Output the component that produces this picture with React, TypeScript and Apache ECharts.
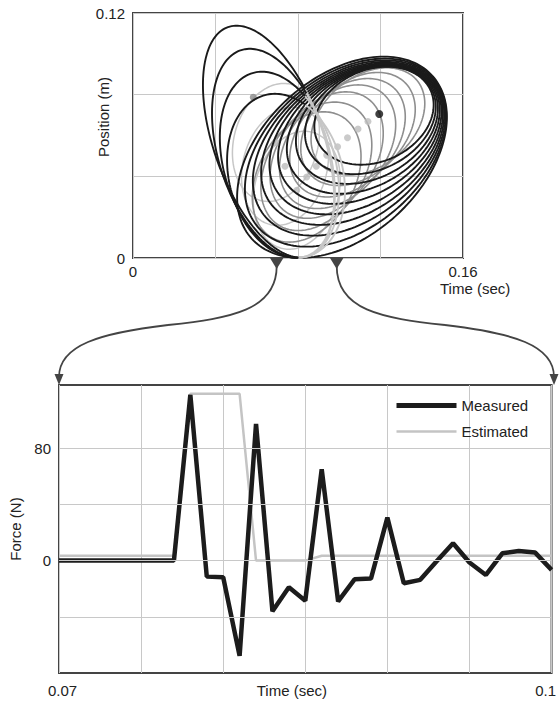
import React, { useEffect, useRef } from "react";
import * as echarts from "echarts";

const FONT = '"Liberation Sans", Arial, Helvetica, sans-serif';

// ---------- Top chart: position vs time ellipses ----------
// ellipse rows: [centerTime, centerPos, semiMajor, semiMinor, angleDeg]
const lobeEllipses = [
  [0.0657, 0.057, 0.0589, 0.0265, -70.5],
  [0.0681, 0.0513, 0.0524, 0.0266, -72.7],
  [0.071, 0.0457, 0.0463, 0.0269, -73.7],
  [0.0742, 0.0403, 0.0404, 0.0276, -75.4],
];
// chord separating the drawn (black) and hidden (grey) halves of the lobes
const lobeApex = [0.0843, 0.0814];
const lobeBase = [0.0794, 0.0];
const rightEllipses = [
  [0.10133, 0.04937, 0.05896, 0.03859, 42],
  [0.10308, 0.05162, 0.05576, 0.0368, 40],
  [0.10478, 0.05388, 0.05256, 0.03496, 38],
  [0.10652, 0.05613, 0.04931, 0.03316, 36],
  [0.10822, 0.05838, 0.04611, 0.03137, 34],
  [0.10996, 0.06069, 0.04291, 0.02953, 32],
  [0.11166, 0.06294, 0.03971, 0.02773, 30],
  [0.11341, 0.06519, 0.03646, 0.02594, 28],
  [0.1151, 0.06744, 0.03326, 0.0241, 26],
  [0.11685, 0.0697, 0.03006, 0.0223, 24],
];
const grayEllipses = [
  [0.0842, 0.0397, 0.0339, 0.0233, 60],
  [0.0889, 0.0449, 0.0339, 0.0233, 57],
  [0.0939, 0.0504, 0.0339, 0.0233, 54],
  [0.0992, 0.0545, 0.0339, 0.0233, 50],
  [0.104, 0.0589, 0.033, 0.0228, 47],
  [0.1091, 0.0632, 0.032, 0.0223, 44],
  [0.1139, 0.0669, 0.031, 0.0218, 40],
];
const lightEllipses = [
  [0.0693, 0.0566, 0.0291, 0.0204, 75],
  [0.0737, 0.0449, 0.0291, 0.0204, 75],
  [0.0794, 0.0332, 0.0291, 0.0204, 75],
];
const dotsMid = [[0.0583, 0.0787]];
const dotsLight = [
  [0.0693, 0.0566],
  [0.0737, 0.0449],
  [0.0794, 0.0332],
  [0.0842, 0.0397],
  [0.0889, 0.0449],
  [0.0939, 0.0504],
  [0.0992, 0.0545],
  [0.104, 0.0589],
  [0.1091, 0.0632],
  [0.1139, 0.0669],
];
const dotsBlack = [[0.1194, 0.0705]];

// ---------- Bottom chart: force vs time ----------
const forceTime = [
  0.07, 0.071, 0.072, 0.073, 0.074, 0.075, 0.076, 0.077, 0.078, 0.079, 0.08,
  0.081, 0.082, 0.083, 0.084, 0.085, 0.086, 0.087, 0.088, 0.089, 0.09, 0.091,
  0.092, 0.093, 0.094, 0.095, 0.096, 0.097, 0.098, 0.099, 0.1,
];
const measured = [
  0, 0, 0, 0, 0, 0, 0, 0, 118, -11.4, -11.8, -67.8, 97.3, -36, -19, -28.5, 65,
  -29, -13.3, -12.8, 30.6, -16.1, -13.7, -0.5, 12.4, -1.4, -10.2, 5.2, 6.9, 5.7,
  -6.6,
];
const estimated = [
  3.5, 3.5, 3.5, 3.5, 3.5, 3.5, 3.5, 3.5, 118.7, 118.7, 118.7, 118.7, 0, 0, 0,
  0, 3.5, 3.5, 3.5, 3.5, 3.5, 3.5, 3.5, 3.5, 3.5, 3.5, 3.5, 3.5, 3.5, 3.5, 3.5,
];
const forceGridValues = [-40, 0, 40, 80];

function ellipsePoints(api: any) {
  const c = api.coord([api.value(0), api.value(1)]);
  const rx = api.size([api.value(2), 0])[0];
  const ry = api.size([api.value(3), 0])[0];
  const th = (api.value(4) * Math.PI) / 180;
  const ux = Math.cos(th), uy = -Math.sin(th);
  const vx = Math.sin(th), vy = Math.cos(th);
  const pts: number[][] = [];
  const N = 180;
  for (let i = 0; i <= N; i++) {
    const t = (i / N) * Math.PI * 2;
    const ca = Math.cos(t) * rx, sb = Math.sin(t) * ry;
    pts.push([c[0] + ca * ux + sb * vx, c[1] + ca * uy + sb * vy]);
  }
  return pts;
}

function ellipseRenderer(color: string, width: number) {
  return (params: any, api: any) => ({
    type: "polyline",
    shape: { points: ellipsePoints(api) },
    style: { fill: "none", stroke: color, lineWidth: width },
    silent: true,
  });
}

function lobeRenderer(front: string, back: string, width: number) {
  return (params: any, api: any) => {
    const pts = ellipsePoints(api);
    const A = api.coord(lobeApex);
    const B = api.coord(lobeBase);
    const side = (p: number[]) =>
      (B[0] - A[0]) * (p[1] - A[1]) - (B[1] - A[1]) * (p[0] - A[0]) > 0;
    const runs: { front: boolean; pts: number[][] }[] = [];
    pts.forEach((p) => {
      const f = side(p);
      const last = runs[runs.length - 1];
      if (last && last.front === f) last.pts.push(p);
      else {
        const prev = last ? last.pts[last.pts.length - 1] : null;
        runs.push({ front: f, pts: prev ? [prev, p] : [p] });
      }
    });
    return {
      type: "group",
      children: runs.map((r) => ({
        type: "polyline",
        shape: { points: r.pts },
        style: { fill: "none", stroke: r.front ? front : back, lineWidth: width },
        z2: r.front ? 2 : 1,
        silent: true,
      })),
    };
  };
}

const near = (a: number, b: number) => Math.abs(a - b) < 1e-7;

export default function App() {
  const ref = useRef<HTMLDivElement>(null);
  useEffect(() => {
    if (!ref.current) return;
    const chart = echarts.init(ref.current, undefined, { renderer: "svg" });
    const gridLine = { lineStyle: { color: "#c8c8c8", width: 1 } };
    const labelBase = { color: "#222", fontSize: 15, fontFamily: FONT };
    const textStyle = (align: string) => ({
      fontSize: 15, fontFamily: FONT, fill: "#222",
      align, verticalAlign: "middle", textAlign: align, textVerticalAlign: "middle",
    });
    chart.setOption({
      animation: false,
      backgroundColor: "#fff",
      textStyle: { fontFamily: FONT },
      grid: [
        { left: 133, top: 13, width: 330, height: 245, show: true, borderColor: "#444", borderWidth: 2, backgroundColor: "transparent" },
        { left: 59, top: 385, width: 495, height: 288, show: true, borderColor: "#444", borderWidth: 2, backgroundColor: "transparent" },
      ],
      xAxis: [
        {
          gridIndex: 0, type: "value", min: 0, max: 0.16, interval: 0.04,
          axisLine: { show: false }, axisTick: { show: false }, splitLine: gridLine,
          axisLabel: {
            ...labelBase, margin: 6, showMinLabel: true, showMaxLabel: true,
            formatter: (v: number) => (near(v, 0) ? "0" : near(v, 0.16) ? "0.16" : ""),
          },
        },
        {
          gridIndex: 1, type: "value", min: 0.07, max: 0.1, interval: 0.005,
          axisLine: { show: false }, axisTick: { show: false }, splitLine: gridLine,
          axisLabel: {
            ...labelBase, margin: 10, showMinLabel: true, showMaxLabel: true,
            formatter: (v: number) => (near(v, 0.07) ? "{a|0.07}" : near(v, 0.1) ? "{b|0.1}" : ""),
            rich: {
              a: { ...labelBase, padding: [0, 0, 0, 7] },
              b: { ...labelBase, padding: [0, 12, 0, 0] },
            },
          },
        },
      ],
      yAxis: [
        {
          gridIndex: 0, type: "value", min: 0, max: 0.12, interval: 0.04,
          axisLine: { show: false }, axisTick: { show: false }, splitLine: gridLine,
          axisLabel: {
            ...labelBase, margin: 8, showMinLabel: true, showMaxLabel: true,
            formatter: (v: number) => (near(v, 0) ? "0" : near(v, 0.12) ? "0.12" : ""),
          },
        },
        {
          gridIndex: 1, type: "value", min: -80, max: 125, interval: 40,
          axisLine: { show: false }, axisTick: { show: false }, splitLine: { show: false },
          name: "Force (N)", nameLocation: "middle", nameGap: 26,
          nameTextStyle: { ...labelBase },
          axisLabel: {
            ...labelBase, margin: 8,
            formatter: (v: number) => (near(v, 0) ? "0" : near(v, 80) ? "80" : ""),
          },
        },
      ],
      legend: {
        data: [
          { name: "Measured", lineStyle: { width: 5, color: "#1c1c1c" } },
          { name: "Estimated", lineStyle: { width: 2.5, color: "#c4c4c4" } },
        ],
        orient: "vertical",
        left: 389,
        top: 393,
        itemWidth: 60,
        itemHeight: 14,
        itemGap: 11,
        itemStyle: { opacity: 0 },
        textStyle: { ...labelBase },
      },
      series: [
        { type: "custom", name: "light", xAxisIndex: 0, yAxisIndex: 0, data: lightEllipses, encode: { x: 0, y: 1 }, renderItem: ellipseRenderer("#c6c6c6", 1.5), z: 2, silent: true },
        { type: "custom", name: "gray", xAxisIndex: 0, yAxisIndex: 0, data: grayEllipses, encode: { x: 0, y: 1 }, renderItem: ellipseRenderer("#8e8e8e", 1.6), z: 3, silent: true },
        { type: "scatter", name: "dotsLight", xAxisIndex: 0, yAxisIndex: 0, data: dotsLight, symbolSize: 7, itemStyle: { color: "#bdbdbd" }, z: 4, silent: true },
        { type: "scatter", name: "dotsMid", xAxisIndex: 0, yAxisIndex: 0, data: dotsMid, symbolSize: 7, itemStyle: { color: "#8a8a8a" }, z: 4, silent: true },
        { type: "custom", name: "lobes", xAxisIndex: 0, yAxisIndex: 0, data: lobeEllipses, encode: { x: 0, y: 1 }, renderItem: lobeRenderer("#1a1a1a", "#c6c6c6", 1.9), z: 5, silent: true },
        { type: "custom", name: "right", xAxisIndex: 0, yAxisIndex: 0, data: rightEllipses, encode: { x: 0, y: 1 }, renderItem: ellipseRenderer("#1a1a1a", 1.9), z: 5, silent: true },
        { type: "scatter", name: "dotsBlack", xAxisIndex: 0, yAxisIndex: 0, data: dotsBlack, symbolSize: 8, itemStyle: { color: "#111" }, z: 6, silent: true },
        {
          type: "line", name: "Estimated", xAxisIndex: 1, yAxisIndex: 1,
          data: forceTime.map((t, i) => [t, estimated[i]]),
          symbol: "none", lineStyle: { color: "#c4c4c4", width: 2.5 }, itemStyle: { color: "#c4c4c4" }, z: 2,
          markLine: {
            silent: true, symbol: "none", label: { show: false },
            lineStyle: { color: "#c8c8c8", width: 1, type: "solid" },
            data: forceGridValues.map((v) => ({ yAxis: v })),
          },
        },
        {
          type: "line", name: "Measured", xAxisIndex: 1, yAxisIndex: 1,
          data: forceTime.map((t, i) => [t, measured[i]]),
          symbol: "none", lineStyle: { color: "#1c1c1c", width: 4.5 }, itemStyle: { color: "#1c1c1c" }, z: 3,
        },
      ],
      graphic: [
        { type: "polygon", shape: { points: [[270, 258], [283.4, 258], [276.7, 269]] }, style: { fill: "#444" }, z: 10 },
        { type: "polygon", shape: { points: [[330, 258], [343.4, 258], [336.7, 269]] }, style: { fill: "#444" }, z: 10 },
        { type: "bezierCurve", shape: { x1: 276.7, y1: 266, cpx1: 276.7, cpy1: 310, cpx2: 232, cpy2: 318, x2: 168, y2: 325 }, style: { stroke: "#444", lineWidth: 1.8, fill: null } },
        { type: "bezierCurve", shape: { x1: 168, y1: 325, cpx1: 100, cpy1: 333, cpx2: 59, cpy2: 345, x2: 59, y2: 377 }, style: { stroke: "#444", lineWidth: 1.8, fill: null } },
        { type: "bezierCurve", shape: { x1: 336.7, y1: 266, cpx1: 336.7, cpy1: 310, cpx2: 381, cpy2: 318, x2: 445, y2: 325 }, style: { stroke: "#444", lineWidth: 1.8, fill: null } },
        { type: "bezierCurve", shape: { x1: 445, y1: 325, cpx1: 513, cpy1: 333, cpx2: 554, cpy2: 345, x2: 554, y2: 377 }, style: { stroke: "#444", lineWidth: 1.8, fill: null } },
        { type: "polygon", shape: { points: [[54.5, 374], [63.5, 374], [59, 385]] }, style: { fill: "#444" }, z: 10 },
        { type: "polygon", shape: { points: [[549.5, 374], [558.5, 374], [554, 385]] }, style: { fill: "#444" }, z: 10 },
        { type: "text", x: 440, y: 288, style: { text: "Time (sec)", ...textStyle("left") } },
        { type: "text", x: 103, y: 117, rotation: Math.PI / 2, style: { text: "Position (m)", ...textStyle("center") } },
        { type: "text", x: 256.7, y: 690.7, style: { text: "Time (sec)", ...textStyle("left") } },
      ],
    });
    return () => chart.dispose();
  }, []);
  return (
    <div
      ref={ref}
      style={{ position: "absolute", left: 0, top: 0, width: 559, height: 702, background: "#fff" }}
    />
  );
}
